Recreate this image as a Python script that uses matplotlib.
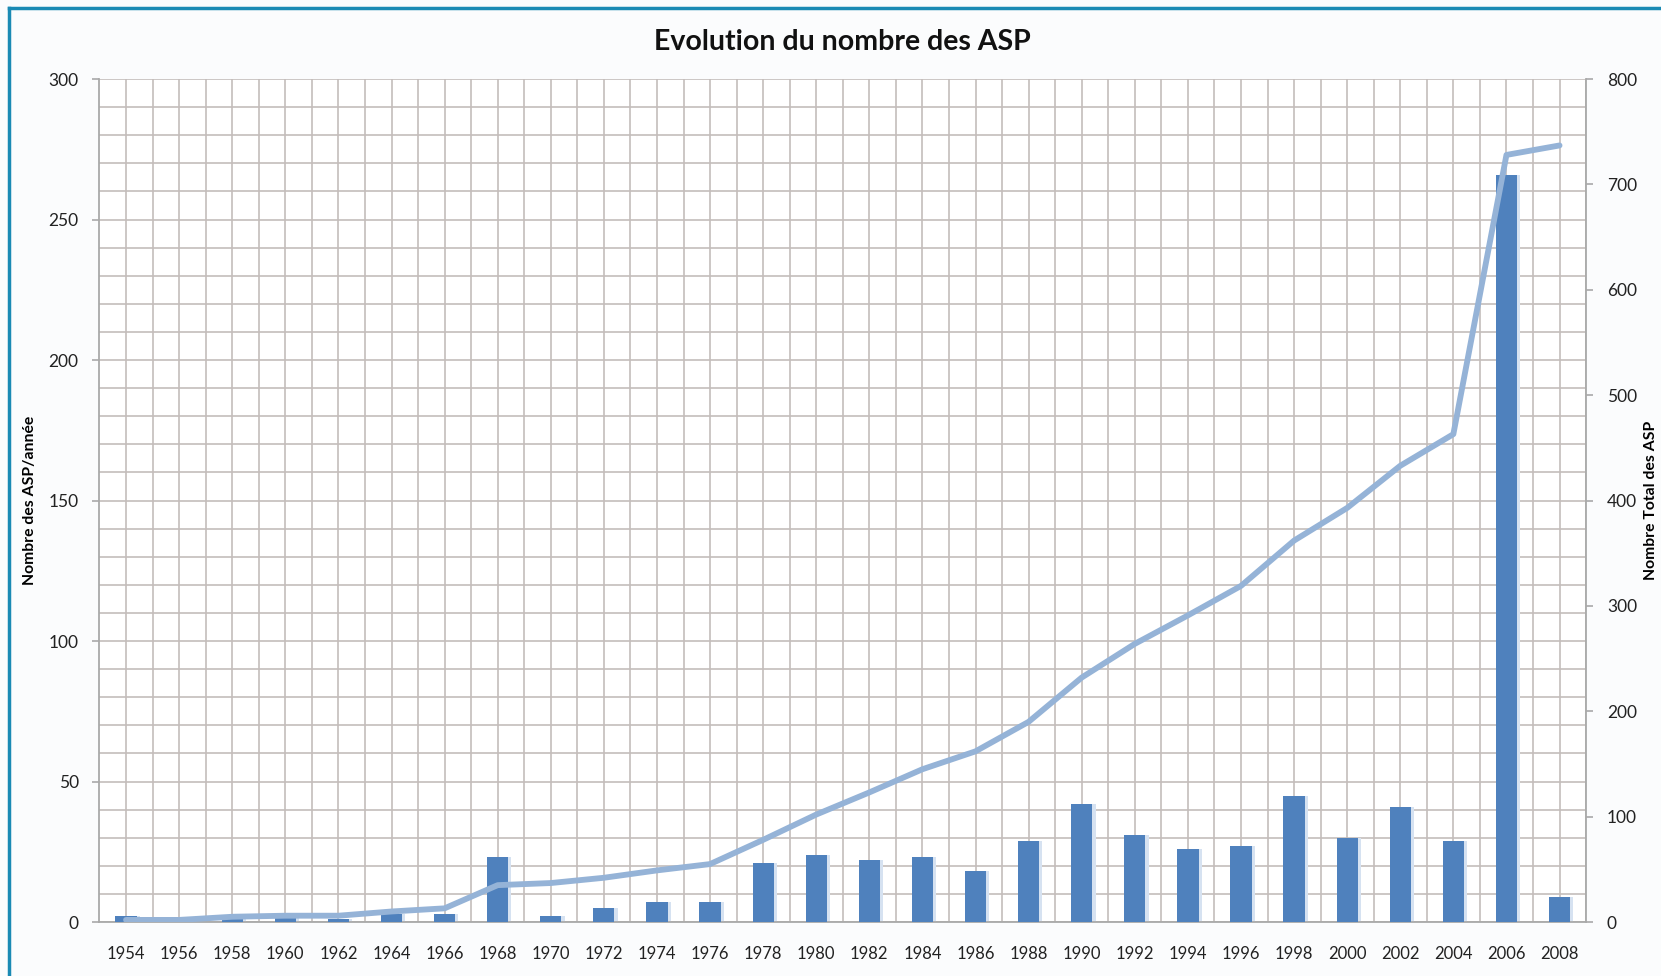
import numpy as np
import matplotlib.pyplot as plt
from matplotlib.ticker import MultipleLocator

# Donnees
annees = ['1954', '1956', '1958', '1960', '1962', '1964', '1966', '1968', '1970',
          '1972', '1974', '1976', '1978', '1980', '1982', '1984', '1986', '1988',
          '1990', '1992', '1994', '1996', '1998', '2000', '2002', '2004', '2006', '2008']

asp_annee = [2, 0, 1, 2, 1, 3, 3, 23, 2, 5, 7, 7, 21, 24, 22, 23, 18, 29,
             42, 31, 26, 27, 45, 30, 41, 29, 266, 9]

asp_total = [2, 2, 5, 6, 6, 10, 13, 35, 37, 42, 49, 55, 78, 102, 123, 145, 162, 190,
             232, 264, 291, 319, 362, 393, 433, 463, 728, 737]

plt.rcParams['font.family'] = ['Lato', 'DejaVu Sans']

fig = plt.figure(figsize=(16.61, 9.76), dpi=100, facecolor='#fbfcfd')
ax = fig.add_axes([0.0599, 0.0553, 0.8950, 0.8637])
ax.set_facecolor('white')

x = np.arange(len(annees))
grille = '#c4bdbb'

# Barres (avec une legere ombre)
ax.bar(x + 0.03, asp_annee, width=0.46, color='#d6e2f1', zorder=2)
ax.bar(x, asp_annee, width=0.4, color='#4f81bd', zorder=3)

ax.set_xlim(-0.5, len(annees) - 0.5)
ax.set_ylim(0, 300)
ax.set_xticks(x)
ax.set_xticklabels(annees)
ax.set_xticks(x + 0.5, minor=True)
ax.yaxis.set_major_locator(MultipleLocator(50))
ax.yaxis.set_minor_locator(MultipleLocator(10))
ax.grid(True, which='both', color=grille, linewidth=1.2, zorder=0)
ax.set_axisbelow(True)

ax.tick_params(axis='x', which='both', length=0, pad=17, labelsize=12, colors='#222222')
ax.tick_params(axis='y', which='major', length=5, width=1.2, color='#a9a9a9',
               labelsize=12.5, labelcolor='#222222', pad=10)
ax.tick_params(axis='y', which='minor', length=0)

for s in ['top', 'right']:
    ax.spines[s].set_visible(False)
for s in ['left', 'bottom']:
    ax.spines[s].set_color('#a9a9a9')
    ax.spines[s].set_linewidth(1.3)

ax.set_ylabel('Nombre des ASP/année', fontsize=11.3, fontweight='bold')
ax.yaxis.set_label_coords(-0.042, 0.5)

# Courbe du total cumule
ax2 = ax.twinx()
ax2.plot(x, asp_total, color='#95b3d7', linewidth=4.2, solid_capstyle='round',
         solid_joinstyle='round', zorder=4)
ax2.set_ylim(0, 800)
ax2.yaxis.set_major_locator(MultipleLocator(100))
ax2.tick_params(axis='y', length=5, width=1.2, color='#a9a9a9', labelsize=12.5,
                labelcolor='#222222', pad=10)
for s in ['top', 'left', 'bottom']:
    ax2.spines[s].set_visible(False)
ax2.spines['right'].set_color('#a9a9a9')
ax2.spines['right'].set_linewidth(1.3)
ax2.set_ylabel('Nombre Total des ASP', fontsize=11.3, fontweight='bold')
ax2.yaxis.set_label_coords(1.039, 0.5)

fig.text(0.507, 0.957, 'Evolution du nombre des ASP', ha='center', va='center',
         fontsize=20.5, fontweight='bold', color='#111111')

# Cadre bleu
fig.add_artist(plt.Line2D([0.0054, 0.0054], [0.0, 0.9918], color='#1a8ab4', linewidth=2.5,
                          transform=fig.transFigure))
fig.add_artist(plt.Line2D([0.0054, 1.0], [0.9918, 0.9918], color='#1a8ab4', linewidth=2.5,
                          transform=fig.transFigure))

fig.savefig('out.png', dpi=100, facecolor=fig.get_facecolor())
